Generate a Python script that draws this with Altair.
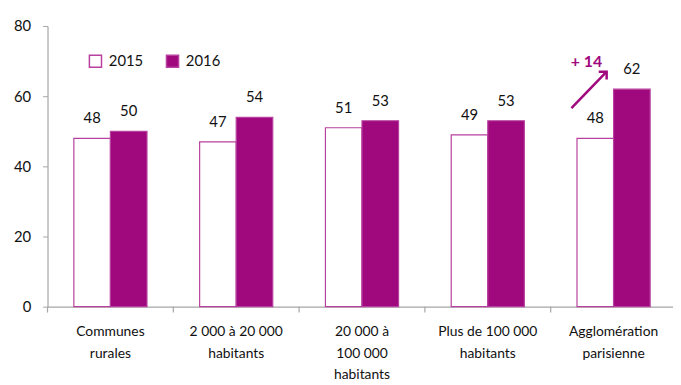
import altair as alt
import pandas as pd

categories = ["Communes|rurales", "2 000 à 20 000|habitants", "20 000 à|100 000|habitants",
              "Plus de 100 000|habitants", "Agglomération|parisienne"]
years = ["2015", "2016"]
v2015 = [48, 47, 51, 49, 48]
v2016 = [50, 54, 53, 53, 62]
y_ticks = [0, 20, 40, 60, 80]

PURPLE = "#A0087D"
EDGE = "#B8409F"
FONT = "Lato"
TXT = "#111111"

rows = []
for c, a, b in zip(categories, v2015, v2016):
    rows.append({"cat": c, "year": "2015", "value": a})
    rows.append({"cat": c, "year": "2016", "value": b})
df = pd.DataFrame(rows)

W, H = 633, 284
xscale = alt.Scale(domain=categories, paddingInner=0, paddingOuter=0, range=[0, 636.5])
x_enc = alt.X("cat:N", sort=categories, scale=xscale,
              axis=alt.Axis(title=None, labelExpr="split(datum.label, '|')", labelAngle=0,
                            ticks=False, domainColor="#A6A6A6", domainWidth=1.2,
                            labelFont=FONT, labelFontSize=14, labelColor=TXT,
                            labelLineHeight=22, labelPadding=18, labelBaseline="top"))
xoff = alt.XOffset("year:N", sort=years, scale=alt.Scale(paddingInner=0, paddingOuter=0.72))
yscale = alt.Scale(domain=[0, 80], nice=False)

base = alt.Chart(df)
bars = base.mark_bar(stroke=EDGE, strokeWidth=1.2).encode(
    x=x_enc,
    xOffset=xoff,
    y=alt.Y("value:Q", scale=yscale,
            axis=alt.Axis(title=None, values=y_ticks, grid=False, domainColor="#A6A6A6",
                          domainWidth=1.2, tickColor="#A6A6A6", tickSize=5, labelPadding=12,
                          labelFont=FONT, labelFontSize=15, labelColor=TXT)),
    fill=alt.Fill("year:N", sort=years,
                  scale=alt.Scale(domain=years, range=["#FFFFFF", PURPLE]),
                  legend=alt.Legend(title=None, orient="none", direction="horizontal",
                                    legendX=41, legendY=28, symbolType="square",
                                    symbolSize=150, symbolStrokeColor=EDGE,
                                    symbolStrokeWidth=1.5, labelFont=FONT, labelFontSize=15,
                                    labelColor=TXT, columnPadding=20, labelOffset=6)),
)

labels = base.mark_text(baseline="bottom", dy=-12, font=FONT, fontSize=15, color=TXT).encode(
    x=alt.X("cat:N", sort=categories, scale=xscale),
    xOffset=xoff,
    y=alt.Y("value:Q", scale=yscale),
    text="value:Q",
)

tick_df = pd.DataFrame({"cat": categories})
ticks = alt.Chart(tick_df).mark_rule(color="#A6A6A6", strokeWidth=1.2).encode(
    x=alt.X("cat:N", sort=categories, scale=xscale, bandPosition=0),
    y=alt.value(H),
    y2=alt.value(H + 6),
)

# annotation: increase in the last category
delta = v2016[-1] - v2015[-1]
ann_df = pd.DataFrame({"cat": [categories[-1]], "y1": [56.6], "y2": [67.0],
                       "ty": [69.6], "txt": [f"+ {delta}"]})
arrow = alt.Chart(ann_df).mark_rule(color=PURPLE, strokeWidth=2.5).encode(
    x=alt.X("cat:N", sort=categories, scale=xscale, bandPosition=0.165),
    x2=alt.X2("cat", bandPosition=0.445),
    y=alt.Y("y1:Q", scale=yscale),
    y2="y2:Q",
)
head = alt.Chart(ann_df).mark_point(shape="M-0.7,0.7L0,0L0.7,0.7", filled=False, angle=45,
                                    size=260, color=PURPLE, strokeWidth=2.5, opacity=1).encode(
    x=alt.X("cat:N", sort=categories, scale=xscale, bandPosition=0.445),
    y=alt.Y("y2:Q", scale=yscale),
)
ann_text = alt.Chart(ann_df).mark_text(font=FONT, fontSize=16, fontWeight="bold", color=PURPLE).encode(
    x=alt.X("cat:N", sort=categories, scale=xscale, bandPosition=0.285),
    y=alt.Y("ty:Q", scale=yscale),
    text="txt:N",
)

chart = alt.layer(bars, labels, ticks, arrow, head, ann_text).properties(
    width=W, height=H,
    autosize=alt.AutoSizeParams(type="none"),
    padding={"left": 40, "top": 16, "right": 0, "bottom": 77},
).configure_view(stroke=None)

chart.save("out.html", embed_options={"renderer": "svg", "actions": False})
